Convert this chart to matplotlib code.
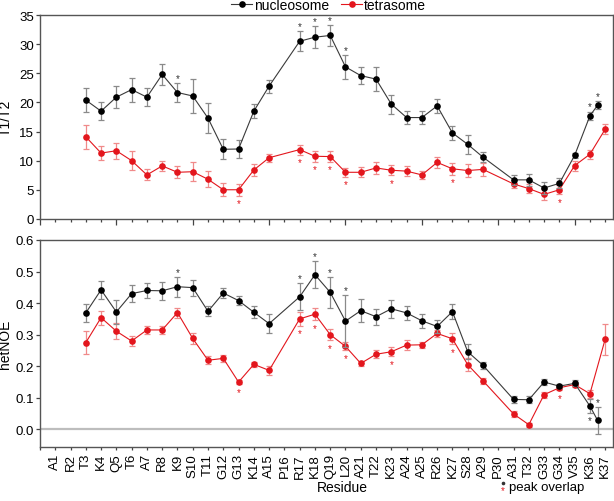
import matplotlib
matplotlib.use("Agg")
import matplotlib.pyplot as plt
from matplotlib.lines import Line2D
import numpy as np

plt.rcParams["font.family"] = ["Liberation Sans", "DejaVu Sans"]

nan = np.nan

residues = ["A1", "R2", "T3", "K4", "Q5", "T6", "A7", "R8", "K9", "S10",
            "T11", "G12", "G13", "K14", "A15", "P16", "R17", "K18", "Q19", "L20",
            "A21", "T22", "K23", "A24", "A25", "R26", "K27", "S28", "A29", "P30",
            "A31", "T32", "G33", "G34", "V35", "K36", "K37"]

# T1/T2
nuc_t1t2 = [nan, nan, 20.4, 18.5, 20.9, 22.2, 20.9, 24.8, 21.7, 21.1,
            17.3, 11.95, 12.0, 18.5, 22.8, nan, 30.5, 31.2, 31.5, 26.1,
            24.6, 24.0, 19.7, 17.4, 17.4, 19.4, 14.75, 12.8, 10.6, nan,
            6.7, 6.7, 5.3, 6.1, 10.9, 17.7, 19.5]
nuc_t1t2_err = [nan, nan, 2.1, 1.5, 1.85, 2.05, 1.6, 1.85, 1.6, 2.9,
                2.6, 1.75, 1.6, 1.25, 1.1, nan, 1.7, 1.9, 1.8, 2.0,
                1.5, 2.1, 1.65, 1.1, 1.05, 1.25, 1.2, 1.6, 0.9, nan,
                0.9, 1.0, 1.0, 0.85, 0.45, 0.7, 0.7]
tet_t1t2 = [nan, nan, 14.1, 11.3, 11.7, 10.0, 7.55, 9.1, 8.0, 8.1,
            6.8, 5.0, 5.0, 8.4, 10.5, nan, 11.9, 10.75, 10.7, 8.0,
            8.0, 8.75, 8.35, 8.2, 7.55, 9.7, 8.6, 8.3, 8.5, nan,
            6.0, 5.2, 4.2, 5.0, 9.15, 11.1, 15.4]
tet_t1t2_err = [nan, nan, 2.05, 1.25, 1.4, 1.65, 0.95, 0.9, 1.0, 1.65,
                1.4, 1.1, 1.0, 1.0, 0.7, nan, 0.85, 0.9, 0.9, 0.8,
                0.85, 1.05, 0.9, 0.8, 0.75, 0.9, 1.0, 1.15, 1.1, nan,
                0.75, 0.8, 0.9, 0.8, 0.85, 0.8, 0.9]

# hetNOE
nuc_noe = [nan, nan, 0.369, 0.442, 0.372, 0.430, 0.440, 0.439, 0.452, 0.449,
           0.374, 0.432, 0.408, 0.371, 0.335, nan, 0.420, 0.490, 0.434, 0.343,
           0.376, 0.357, 0.382, 0.369, 0.344, 0.326, 0.373, 0.246, 0.203, nan,
           0.095, 0.094, 0.150, 0.137, 0.146, 0.074, 0.029]
nuc_noe_err = [nan, nan, 0.028, 0.029, 0.039, 0.028, 0.025, 0.028, 0.032, 0.025,
               0.016, 0.016, 0.013, 0.019, 0.030, nan, 0.043, 0.043, 0.049, 0.083,
               0.037, 0.025, 0.028, 0.021, 0.023, 0.022, 0.023, 0.024, 0.012, nan,
               0.010, 0.011, 0.010, 0.007, 0.009, 0.023, 0.042]
tet_noe = [nan, nan, 0.275, 0.354, 0.311, 0.280, 0.315, 0.315, 0.370, 0.288,
           0.219, 0.225, 0.150, 0.206, 0.187, nan, 0.350, 0.365, 0.300, 0.263,
           0.209, 0.238, 0.246, 0.267, 0.268, 0.304, 0.287, 0.205, 0.154, nan,
           0.049, 0.015, 0.110, 0.132, 0.142, 0.113, 0.286]
tet_noe_err = [nan, nan, 0.036, 0.022, 0.026, 0.015, 0.013, 0.013, 0.016, 0.018,
               0.012, 0.012, 0.007, 0.008, 0.014, nan, 0.021, 0.019, 0.018, 0.013,
               0.008, 0.013, 0.015, 0.015, 0.009, 0.010, 0.017, 0.020, 0.010, nan,
               0.009, 0.006, 0.010, 0.008, 0.009, 0.012, 0.049]

# nucleosome K37 is drawn half a residue to the left in the original
nuc_shift = {"K37": -0.5}

# peak overlap marks
t1t2_nuc_above = ["K9", "R17", "K18", "Q19", "L20", "K36", "K37"]
t1t2_tet_below = ["G13", "R17", "K18", "Q19", "L20", "K23", "K27", "G34"]
noe_nuc_above = ["K9", "R17", "K18", "Q19", "L20", "K37"]
noe_nuc_below = ["K36"]
noe_tet_below = ["G13", "R17", "K18", "Q19", "L20", "K23", "K27", "G34"]

NUC_LINE = "#3a3a3a"
NUC_MARK = "black"
NUC_ERR = "#8a8a8a"
TET_LINE = "#e3161d"
TET_ERR = "#f08a8a"

x = np.arange(1, len(residues) + 1, dtype=float)
x_nuc = x + np.array([nuc_shift.get(r, 0.0) for r in residues])


def draw_series(ax, xs, y, err, line_c, mark_c, err_c, label, z):
    y = np.array(y)
    err = np.array(err)
    ok = ~np.isnan(y)
    ax.errorbar(xs[ok], y[ok], yerr=err[ok], fmt="none", ecolor=err_c,
                elinewidth=0.9, capsize=2.2, capthick=0.9, zorder=z)
    ax.plot(xs[ok], y[ok], "-o", color=line_c, lw=0.8, ms=4.8,
            mfc=mark_c, mec="none", label=label, zorder=z + 1)


def stars(ax, xs, y, err, names, color, side, off):
    for n in names:
        i = residues.index(n)
        if side == "above":
            yy = y[i] + err[i] + off
        else:
            yy = y[i] - err[i] - off
        ax.text(xs[i], yy, "*", color=color, ha="center", va="center",
                fontsize=7)


fig = plt.figure(figsize=(6.14, 5.02), dpi=100)
ax1 = fig.add_axes([0.0651, 0.562, 0.933, 0.406])
ax2 = fig.add_axes([0.0651, 0.108, 0.933, 0.412])

# top panel
draw_series(ax1, x, tet_t1t2, tet_t1t2_err, TET_LINE, TET_LINE, TET_ERR, "tetrasome", 2)
draw_series(ax1, x_nuc, nuc_t1t2, nuc_t1t2_err, NUC_LINE, NUC_MARK, NUC_ERR, "nucleosome", 4)
stars(ax1, x_nuc, nuc_t1t2, nuc_t1t2_err, t1t2_nuc_above, "#333333", "above", 0.9)
stars(ax1, x, tet_t1t2, tet_t1t2_err, t1t2_tet_below, TET_LINE, "below", 1.3)
ax1.set_xlim(0, 37.5)
ax1.set_ylim(0, 35)
ax1.set_yticks(np.arange(0, 36, 5))
ax1.set_xticks(np.arange(0, 36, 5))
ax1.set_xticks(np.arange(0, 38, 1), minor=True)
ax1.set_xticklabels([])
ax1.tick_params(axis="x", which="major", length=4, width=0.9, color="#444444")
ax1.tick_params(axis="x", which="minor", length=2.2, width=0.9, color="#444444")
ax1.set_ylabel("T1/T2", fontsize=10)

# bottom panel
ax2.axhline(0, color="#bdbdbd", lw=1.6, zorder=1)
draw_series(ax2, x, tet_noe, tet_noe_err, TET_LINE, TET_LINE, TET_ERR, "tetrasome", 2)
draw_series(ax2, x_nuc, nuc_noe, nuc_noe_err, NUC_LINE, NUC_MARK, NUC_ERR, "nucleosome", 4)
stars(ax2, x_nuc, nuc_noe, nuc_noe_err, noe_nuc_above, "#333333", "above", 0.015)
stars(ax2, x_nuc, nuc_noe, nuc_noe_err, noe_nuc_below, "#333333", "below", 0.022)
stars(ax2, x, tet_noe, tet_noe_err, noe_tet_below, TET_LINE, "below", 0.025)
ax2.set_xlim(0, 37.5)
ax2.set_ylim(-0.055, 0.6)
ax2.set_yticks(np.arange(0, 0.61, 0.1))
ax2.set_yticklabels([f"{v:.1f}" for v in np.arange(0, 0.61, 0.1)])
ax2.set_xticks(x)
ax2.set_xticklabels(residues, rotation=90, fontsize=9.5)
ax2.set_xticks([0], minor=True)
ax2.tick_params(axis="x", which="both", length=2.5, width=0.9, color="#444444", pad=2)
ax2.set_ylabel("hetNOE", fontsize=10)

for ax in (ax1, ax2):
    ax.tick_params(axis="y", length=3, width=0.9, labelsize=9.5, color="#444444", pad=1.5)
    ax.yaxis.set_label_coords(-0.048, 0.5)
    for s in ax.spines.values():
        s.set_color("#555555")
        s.set_linewidth(1.0)

h, l = ax1.get_legend_handles_labels()
fig.legend(h[::-1], l[::-1], loc="center", bbox_to_anchor=(0.535, 0.988), ncol=2,
           frameon=False, fontsize=10, handlelength=1.5, handletextpad=0.1,
           columnspacing=0.9, borderpad=0, borderaxespad=0)

fig.text(0.557, 0.027, "Residue", ha="center", va="center", fontsize=10)
fig.text(0.819, 0.022, "*", color=TET_LINE, ha="center", va="center", fontsize=7)
fig.add_artist(Line2D([0.819], [0.036], marker="o", ms=1.6, color="#333333",
                      transform=fig.transFigure))
fig.text(0.829, 0.027, "peak overlap", ha="left", va="center", fontsize=9.5)

fig.savefig("out.png", dpi=100)
